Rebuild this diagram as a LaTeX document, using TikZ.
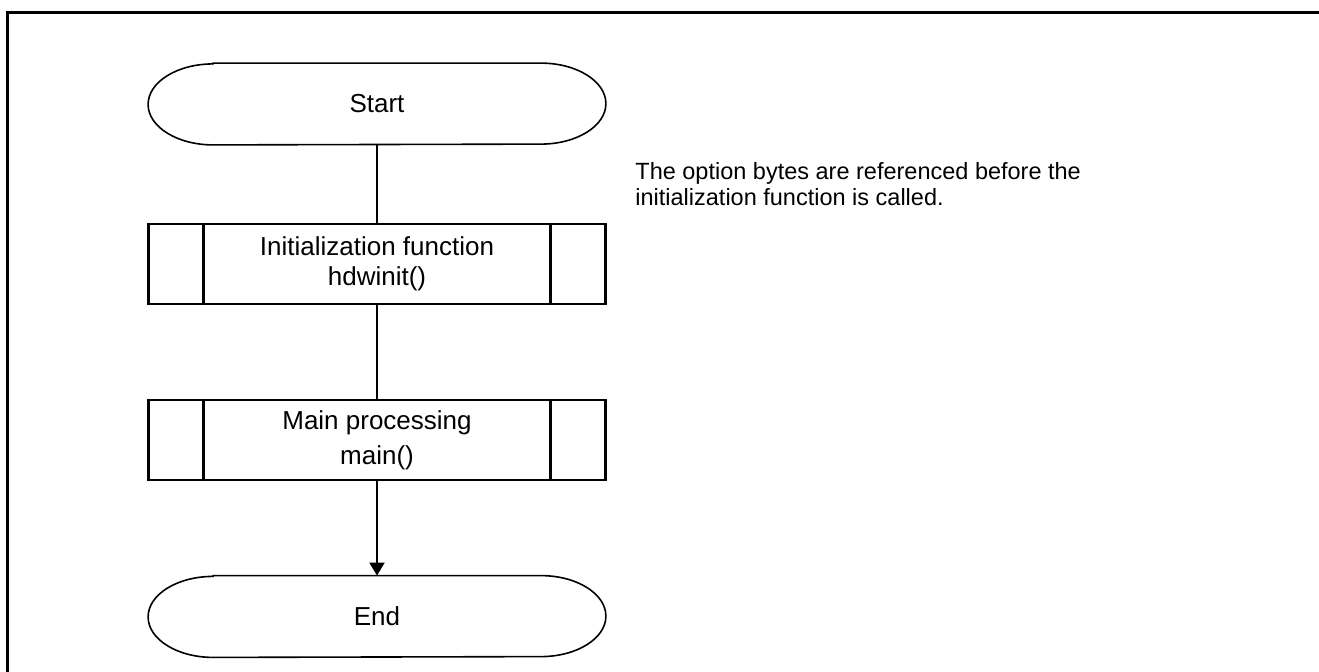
\documentclass[tikz,border=0pt]{standalone}
\usepackage{fontspec}
\setmainfont{Liberation Sans}
\usetikzlibrary{arrows.meta}

\tikzset{
  % terminal (Start / End): text only, outline drawn by \termoutline
  term/.style={minimum width=228.5pt, minimum height=40.5pt, inner sep=0pt,
    font=\fontsize{13}{15}\selectfont},
  termline/.style={draw, line width=0.8pt},
  % predefined process: box with an extra vertical bar at each side
  subproc/.style={draw, line width=1.1pt, minimum width=228.5pt, minimum height=40pt,
    inner sep=0pt, align=center, font=\fontsize{13}{15}\selectfont,
    path picture={
      \draw[line width=1.1pt]
        ([xshift=27.5pt]path picture bounding box.north west) -- ([xshift=27.5pt]path picture bounding box.south west)
        ([xshift=-27.5pt]path picture bounding box.north east) -- ([xshift=-27.5pt]path picture bounding box.south east);
    }},
  flow/.style={line width=1pt},
  note/.style={align=left, inner sep=0pt, font=\fontsize{11.75}{13}\selectfont}
}

% outline of a terminal node: straight top and bottom, elliptical ends
\newcommand\termoutline[1]{%
  \draw[termline]
    ([xshift=32.5pt]#1.north west) -- ([xshift=-32.5pt]#1.north east)
    arc[start angle=90, end angle=-90, x radius=32.5pt, y radius=20.25pt]
    -- ([xshift=32.5pt]#1.south west)
    arc[start angle=270, end angle=90, x radius=32.5pt, y radius=20.25pt]
    -- cycle;}

\begin{document}
\begin{tikzpicture}[x=0.5pt, y=-0.5pt]
  \useasboundingbox (0,0) rectangle (1319,671);

  % page frame (top and left edges)
  \draw[line width=1.5pt] (7,680) -- (7,12) -- (1330,12);

  \node[term]    (start) at (377,104)   {Start};
  \node[subproc] (init)  at (377,264)   {Initialization function\\hdwinit()};
  \node[subproc] (mainp) at (377,440)   {Main processing\\[2.5pt]main()};
  \node[term]    (stop)  at (377,616.5) {End};
  \termoutline{start}
  \termoutline{stop}

  \node[note, anchor=north west] (note) at (635,162)
    {The option bytes are referenced before the\\initialization function is called.};

  \draw[flow] (start.south) -- (init.north);
  \draw[flow] (init.south) -- (mainp.north);
  \draw[flow, -{Triangle[length=6.5pt, width=7.5pt]}] (mainp.south) -- (stop.north);
\end{tikzpicture}
\end{document}
